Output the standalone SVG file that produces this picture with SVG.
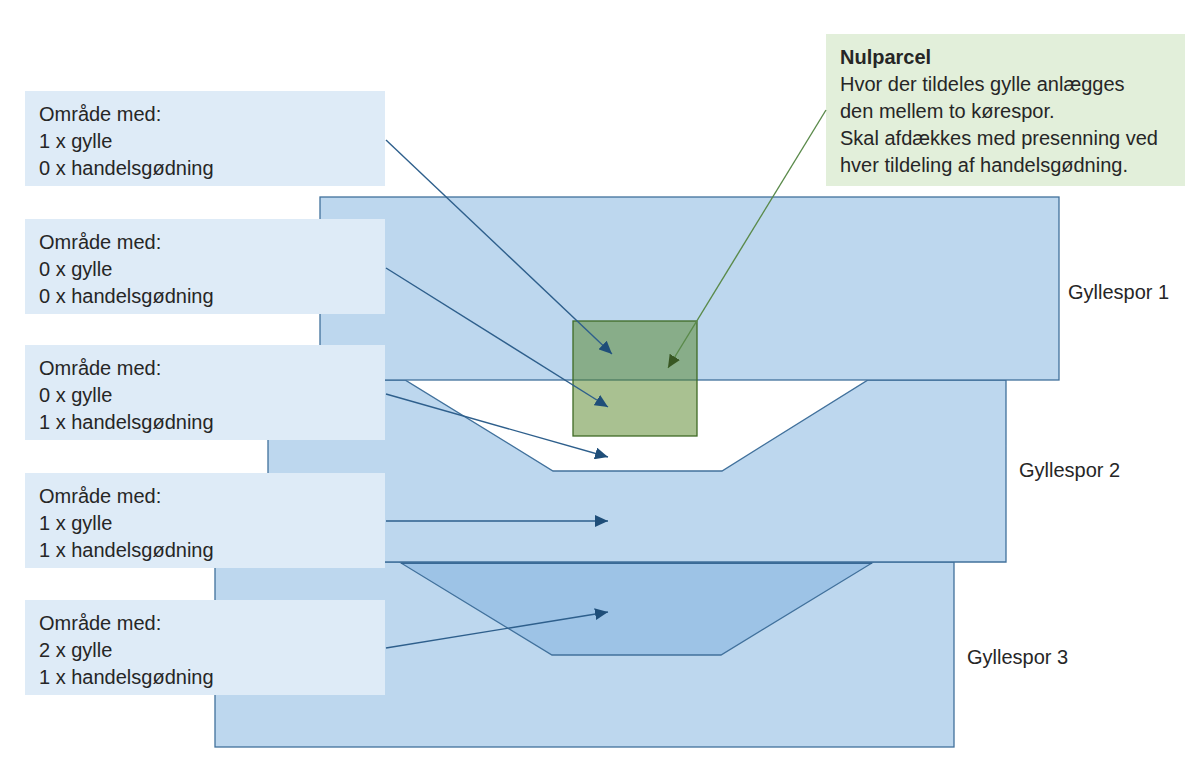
<svg xmlns="http://www.w3.org/2000/svg" width="1200" height="767" viewBox="0 0 1200 767">
<defs>
<style>
.field{fill:#bdd7ee;stroke:#41719c;stroke-width:1.3}
.box{fill:#deebf7}
.t{font-family:"Liberation Sans",Arial,sans-serif;font-size:20px;fill:#262626}
.conn{fill:none;stroke:#2e5f8c;stroke-width:1.4}
.gconn{fill:none;stroke:#5a8a4a;stroke-width:1.4}
</style>
<marker id="ah" markerUnits="userSpaceOnUse" markerWidth="14" markerHeight="12" refX="13" refY="6" orient="auto">
<path d="M0,0 L13,6 L0,12 Z" fill="#1f4e79"/>
</marker>
<marker id="gh" markerUnits="userSpaceOnUse" markerWidth="14" markerHeight="12" refX="13" refY="6" orient="auto">
<path d="M0,0 L13,6 L0,12 Z" fill="#385723"/>
</marker>
</defs>
<rect width="1200" height="767" fill="#ffffff"/>

<g id="gyllespor3">
<rect class="field" x="215" y="562" width="739" height="185"/>
<polygon points="401,563 872,563 721,655 552,655" fill="#9dc3e6" stroke="#41719c" stroke-width="1.3"/>
<line x1="401" y1="563" x2="872" y2="563" stroke="#2e5f8c" stroke-width="1.6"/>
<text class="t" x="967" y="664">Gyllespor 3</text>
</g>

<g id="gyllespor2">
<polygon class="field" points="268,380 405,380 553,471 722,471 868,380 1006,380 1006,562 268,562"/>
<text class="t" x="1019" y="477">Gyllespor 2</text>
</g>

<g id="gyllespor1">
<rect class="field" x="320" y="197" width="739" height="183"/>
<text class="t" x="1068" y="299">Gyllespor 1</text>
</g>

<g id="nulparcel-omraade">
<rect x="573" y="321" width="124" height="115" fill="#538323" fill-opacity="0.5" stroke="#3f6b25" stroke-width="1.3"/>
</g>

<g id="nulparcel">
<rect x="826" y="34" width="359" height="152" fill="#e2efda"/>
<text class="t" x="840" y="64" font-weight="bold">Nulparcel</text>
<text class="t" x="840" y="91">Hvor der tildeles gylle anlægges</text>
<text class="t" x="840" y="118">den mellem to kørespor.</text>
<text class="t" x="840" y="145">Skal afdækkes med presenning ved</text>
<text class="t" x="840" y="172">hver tildeling af handelsgødning.</text>
</g>

<g id="omr1">
<rect class="box" x="25" y="91" width="360" height="95"/>
<text class="t" x="39" y="121">Område med:</text>
<text class="t" x="39" y="148">1 x gylle</text>
<text class="t" x="39" y="175">0 x handelsgødning</text>
</g>
<g id="omr2">
<rect class="box" x="25" y="219" width="360" height="95"/>
<text class="t" x="39" y="249">Område med:</text>
<text class="t" x="39" y="276">0 x gylle</text>
<text class="t" x="39" y="303">0 x handelsgødning</text>
</g>
<g id="omr3">
<rect class="box" x="25" y="345" width="360" height="95"/>
<text class="t" x="39" y="375">Område med:</text>
<text class="t" x="39" y="402">0 x gylle</text>
<text class="t" x="39" y="429">1 x handelsgødning</text>
</g>
<g id="omr4">
<rect class="box" x="25" y="473" width="360" height="95"/>
<text class="t" x="39" y="503">Område med:</text>
<text class="t" x="39" y="530">1 x gylle</text>
<text class="t" x="39" y="557">1 x handelsgødning</text>
</g>
<g id="omr5">
<rect class="box" x="25" y="600" width="360" height="95"/>
<text class="t" x="39" y="630">Område med:</text>
<text class="t" x="39" y="657">2 x gylle</text>
<text class="t" x="39" y="684">1 x handelsgødning</text>
</g>

<g id="connectors">
<line class="conn" x1="386" y1="140" x2="612" y2="354" marker-end="url(#ah)"/>
<line class="conn" x1="386" y1="268" x2="608" y2="407" marker-end="url(#ah)"/>
<line class="conn" x1="386" y1="394" x2="608" y2="457" marker-end="url(#ah)"/>
<line class="conn" x1="386" y1="521" x2="608" y2="521" marker-end="url(#ah)"/>
<line class="conn" x1="386" y1="648" x2="608" y2="612" marker-end="url(#ah)"/>
<line class="gconn" x1="826" y1="110" x2="668" y2="368" marker-end="url(#gh)"/>
</g>
</svg>
